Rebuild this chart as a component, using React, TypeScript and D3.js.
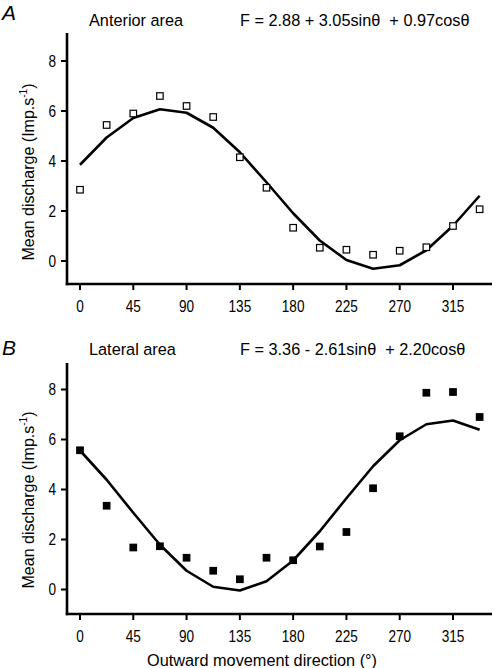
import React from "react";
import * as d3 from "d3";

const angles = [0, 22.5, 45, 67.5, 90, 112.5, 135, 157.5, 180, 202.5, 225, 247.5, 270, 292.5, 315, 337.5];
const anteriorPoints = [2.85, 5.44, 5.9, 6.6, 6.2, 5.76, 4.15, 2.93, 1.33, 0.53, 0.45, 0.25, 0.41, 0.55, 1.4, 2.07];
const anteriorFit = [3.85, 4.94, 5.72, 6.07, 5.93, 5.33, 4.35, 3.15, 1.91, 0.82, 0.04, -0.31, -0.17, 0.43, 1.41, 2.61];
const lateralPoints = [5.57, 3.35, 1.68, 1.73, 1.27, 0.75, 0.41, 1.27, 1.17, 1.72, 2.3, 4.05, 6.13, 7.87, 7.9, 6.9];
const lateralFit = [5.56, 4.39, 3.07, 1.79, 0.75, 0.11, -0.04, 0.33, 1.16, 2.33, 3.65, 4.93, 5.97, 6.61, 6.76, 6.39];
const xTicks = [0, 45, 90, 135, 180, 225, 270, 315];
const yTicks = [0, 2, 4, 6, 8];

const FONT = "'Liberation Sans', Arial, Helvetica, sans-serif";

type PanelProps = {
  top: number; // y pixel of the "0" value
  axisTop: number;
  axisBottom: number;
  pts: number[];
  fit: number[];
  filled: boolean;
  letter: string;
  title: string;
  formula: string;
  titleBaseline: number;
  letterBaseline: number;
  labelCenter: number;
};

const x = d3.scaleLinear().domain([0, 315]).range([80, 453]);

function Panel(p: PanelProps) {
  const y = d3.scaleLinear().domain([0, 8]).range([p.top, p.top - 200]);
  const line = d3
    .line<number>()
    .x((_, i) => x(angles[i]))
    .y((d) => y(d));
  const axisX = 67;
  const s = 6.5;
  return (
    <g>
      <text x={2} y={p.letterBaseline} fontSize={21} fontStyle="italic" fontFamily={FONT}>
        {p.letter}
      </text>
      <text x={89} y={p.titleBaseline} fontSize={16.3} fontFamily={FONT}>
        {p.title}
      </text>
      <text x={240} y={p.titleBaseline} fontSize={16.3} fontFamily={FONT} style={{ whiteSpace: "pre" }}>
        {p.formula}
      </text>
      {/* axes */}
      <line x1={axisX} x2={axisX} y1={p.axisTop} y2={p.axisBottom + 1.25} stroke="#000" strokeWidth={2.6} />
      <line x1={axisX - 1.25} x2={492} y1={p.axisBottom} y2={p.axisBottom} stroke="#000" strokeWidth={2.6} />
      {yTicks.map((t) => (
        <g key={"y" + t}>
          <line x1={axisX - 6} x2={axisX} y1={y(t)} y2={y(t)} stroke="#000" strokeWidth={2} />
          <text
            transform={`translate(56,${y(t) + 5.6}) scale(0.85,1)`}
            textAnchor="end"
            fontSize={16}
            fontFamily={FONT}
          >
            {t}
          </text>
        </g>
      ))}
      {xTicks.map((t) => (
        <g key={"x" + t}>
          <line x1={x(t)} x2={x(t)} y1={p.axisBottom} y2={p.axisBottom + 6} stroke="#000" strokeWidth={2} />
          <text
            transform={`translate(${x(t)},${p.axisBottom + 28}) scale(0.85,1)`}
            textAnchor="middle"
            fontSize={16}
            fontFamily={FONT}
          >
            {t}
          </text>
        </g>
      ))}
      <text
        transform={`translate(33.5,${p.labelCenter}) rotate(-90)`}
        textAnchor="middle"
        fontSize={16}
        fontFamily={FONT}
      >
        Mean discharge (Imp.s
        <tspan fontSize={10} dy={-7}>-1</tspan>
        <tspan dy={7}>)</tspan>
      </text>
      <path d={line(p.fit) || ""} fill="none" stroke="#000" strokeWidth={2.6} strokeLinejoin="round" />
      {p.pts.map((v, i) => (
        <rect
          key={i}
          x={x(angles[i]) - s / 2}
          y={y(v) - s / 2}
          width={s}
          height={s}
          fill={p.filled ? "#000" : "#fff"}
          stroke="#000"
          strokeWidth={1.2}
        />
      ))}
    </g>
  );
}

export default function App() {
  return (
    <svg
      width={494}
      height={668}
      style={{ position: "absolute", left: 0, top: 0, background: "#fff" }}
    >
      <rect width={494} height={668} fill="#fff" />
      <Panel
        top={261}
        axisTop={33}
        axisBottom={284}
        pts={anteriorPoints}
        fit={anteriorFit}
        filled={false}
        letter="A"
        title="Anterior area"
        formula={"F = 2.88 + 3.05sinθ  + 0.97cosθ"}
        titleBaseline={26}
        letterBaseline={20}
        labelCenter={172}
      />
      <Panel
        top={589.5}
        axisTop={363}
        axisBottom={614}
        pts={lateralPoints}
        fit={lateralFit}
        filled={true}
        letter="B"
        title="Lateral area"
        formula={"F = 3.36 - 2.61sinθ  + 2.20cosθ"}
        titleBaseline={355}
        letterBaseline={355}
        labelCenter={500}
      />
      <text x={262} y={666} textAnchor="middle" fontSize={16.3} fontFamily={FONT}>
        Outward movement direction (°)
      </text>
    </svg>
  );
}
